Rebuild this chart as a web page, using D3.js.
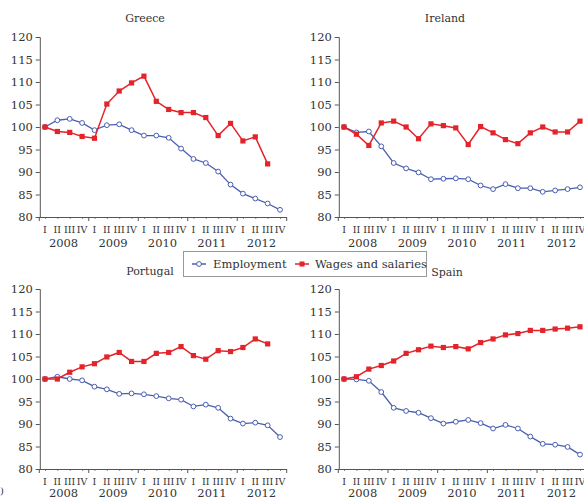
<!DOCTYPE html>
<html>
<head>
<meta charset="utf-8">
<script src="https://cdn.jsdelivr.net/npm/d3@7"></script>
<style>
  body { margin: 0; background: #fff; }
  svg { display: block; font-family: "DejaVu Serif", "Liberation Serif", serif; }
</style>
</head>
<body>
<svg id="chart" width="584" height="501"></svg>
<script>
// quarters 2008 Q1 .. 2012 Q4
const years = ["2008", "2009", "2010", "2011", "2012"];
const quarterLabels = ["I", "II", "III", "IV"];
const yTicks = [80, 85, 90, 95, 100, 105, 110, 115, 120];

const greeceEmployment = [100, 101.5, 101.8, 100.9, 99.3, 100.4, 100.6, 99.3, 98.1, 98.1, 97.6, 95.2, 92.9, 92.0, 90.1, 87.2, 85.2, 84.1, 83.0, 81.6];
const greeceWages = [100, 99.0, 98.8, 97.9, 97.5, 105.1, 108.0, 109.8, 111.3, 105.7, 103.9, 103.2, 103.2, 102.1, 98.1, 100.8, 96.9, 97.8, 91.8];

const irelandEmployment = [100, 98.8, 99.0, 95.7, 92.0, 90.8, 89.9, 88.4, 88.5, 88.6, 88.4, 87.0, 86.2, 87.3, 86.4, 86.4, 85.6, 85.9, 86.2, 86.6];
const irelandWages = [100, 98.4, 95.9, 100.9, 101.3, 100, 97.4, 100.7, 100.3, 99.8, 96.1, 100.1, 98.7, 97.2, 96.3, 98.7, 100, 98.9, 98.9, 101.3];

const portugalEmployment = [100, 100.5, 100, 99.7, 98.3, 97.7, 96.7, 96.8, 96.6, 96.2, 95.7, 95.4, 93.9, 94.3, 93.6, 91.2, 90.1, 90.3, 89.7, 87.1];
const portugalWages = [100, 100, 101.5, 102.7, 103.4, 104.9, 105.9, 103.9, 103.9, 105.7, 105.9, 107.2, 105.2, 104.4, 106.3, 106.1, 107.0, 108.9, 107.8];

const spainEmployment = [100, 99.9, 99.6, 97.1, 93.6, 92.9, 92.5, 91.3, 90.1, 90.5, 90.9, 90.2, 89.0, 89.8, 89.0, 87.2, 85.6, 85.4, 84.9, 83.2];
const spainWages = [100, 100.5, 102.2, 103.0, 104.0, 105.7, 106.5, 107.3, 107.0, 107.2, 106.7, 108.1, 108.9, 109.8, 110.1, 110.8, 110.8, 111.1, 111.3, 111.6];

const blue = "#4a5fb0";
const red = "#e3242b";

const svg = d3.select("#chart");

// panel positions
const panels = [
  {name: "Greece", emp: greeceEmployment, wag: greeceWages, x0: 38.8, x1: 286.2, top: 37, bottom: 217, titleX: 145, titleY: 22, yearDy: 30},
  {name: "Ireland", emp: irelandEmployment, wag: irelandWages, x0: 337.8, x1: 586.2, top: 37, bottom: 217, titleX: 445, titleY: 22, yearDy: 30},
  {name: "Portugal", emp: portugalEmployment, wag: portugalWages, x0: 38.8, x1: 286.2, top: 289, bottom: 469, titleX: 150, titleY: 275, yearDy: 28},
  {name: "Spain", emp: spainEmployment, wag: spainWages, x0: 337.8, x1: 586.2, top: 289, bottom: 469, titleX: 447, titleY: 276, yearDy: 28}
];

panels.forEach(p => {
  const g = svg.append("g");

  const x = d3.scaleLinear().domain([-0.5, 19.5]).range([p.x0, p.x1]);
  const y = d3.scaleLinear().domain([80, 120]).range([p.bottom, p.top]);

  // title
  g.append("text")
    .attr("x", p.titleX)
    .attr("y", p.titleY)
    .attr("text-anchor", "middle")
    .attr("font-size", "11px")
    .attr("fill", "#333")
    .text(p.name);

  // y axis
  const yAxis = g.append("g")
    .attr("transform", `translate(${p.x0 + 1},0)`)
    .call(d3.axisLeft(y).tickValues(yTicks).tickSize(4).tickPadding(3));
  yAxis.selectAll("text").attr("font-size", "11.5px").attr("fill", "#333").attr("font-family", "DejaVu Serif");
  yAxis.selectAll("line, path").attr("stroke", "#555");

  // small quarter ticks
  const minor = g.append("g")
    .attr("transform", `translate(0,${p.bottom})`)
    .call(d3.axisBottom(x).tickValues(d3.range(20)).tickSize(2).tickSizeOuter(0).tickFormat(""));
  minor.select("path").remove();
  minor.selectAll("line").attr("stroke", "#888");

  // x axis with ticks at year boundaries
  const xAxis = g.append("g")
    .attr("transform", `translate(0,${p.bottom})`)
    .call(d3.axisBottom(x).tickValues([-0.5, 3.5, 7.5, 11.5, 15.5, 19.5]).tickSize(4).tickSizeOuter(0).tickFormat(""));
  xAxis.selectAll("line, path").attr("stroke", "#555");

  // quarter labels
  const idx = d3.range(20);
  g.selectAll(".q")
    .data(idx)
    .join("text")
    .attr("x", i => x(i))
    .attr("y", p.bottom + 16)
    .attr("text-anchor", "middle")
    .attr("font-size", "9.5px")
    .attr("fill", "#333")
    .text(i => quarterLabels[i % 4]);

  // year labels
  g.selectAll(".yr")
    .data(years)
    .join("text")
    .attr("x", (d, k) => x(1.5 + 4 * k))
    .attr("y", p.bottom + p.yearDy)
    .attr("text-anchor", "middle")
    .attr("font-size", "11.5px")
    .attr("fill", "#333")
    .text(d => d);

  const line = d3.line().x((d, i) => x(i)).y(d => y(d));

  // employment
  g.append("path")
    .datum(p.emp)
    .attr("fill", "none")
    .attr("stroke", blue)
    .attr("stroke-width", 1.3)
    .attr("d", line);
  g.selectAll(".emp")
    .data(p.emp)
    .join("circle")
    .attr("cx", (d, i) => x(i))
    .attr("cy", d => y(d))
    .attr("r", 2.4)
    .attr("fill", "#fff")
    .attr("stroke", blue)
    .attr("stroke-width", 1);

  // wages and salaries
  g.append("path")
    .datum(p.wag)
    .attr("fill", "none")
    .attr("stroke", red)
    .attr("stroke-width", 1.5)
    .attr("d", line);
  g.selectAll(".wag")
    .data(p.wag)
    .join("rect")
    .attr("x", (d, i) => x(i) - 2.6)
    .attr("y", d => y(d) - 2.6)
    .attr("width", 5.2)
    .attr("height", 5.2)
    .attr("fill", red);
});

// legend
const legend = svg.append("g");
legend.append("rect")
  .attr("x", 183.5)
  .attr("y", 251.5)
  .attr("width", 243)
  .attr("height", 25)
  .attr("fill", "#fff")
  .attr("stroke", "#999");

const legendItems = [
  {label: "Employment", color: blue, type: "circle", lx: 192, tx: 213},
  {label: "Wages and salaries", color: red, type: "rect", lx: 295, tx: 315}
];
legendItems.forEach(it => {
  legend.append("line")
    .attr("x1", it.lx).attr("x2", it.lx + 14)
    .attr("y1", 264).attr("y2", 264)
    .attr("stroke", it.color).attr("stroke-width", 1.5);
  if (it.type === "circle") {
    legend.append("circle")
      .attr("cx", it.lx + 7).attr("cy", 264).attr("r", 2.4)
      .attr("fill", "#fff").attr("stroke", it.color);
  } else {
    legend.append("rect")
      .attr("x", it.lx + 4.5).attr("y", 261.5).attr("width", 5).attr("height", 5)
      .attr("fill", it.color);
  }
  legend.append("text")
    .attr("x", it.tx)
    .attr("y", 268)
    .attr("font-size", "11.5px")
    .attr("fill", "#333")
    .text(it.label);
});

// cut-off panel label at the bottom left
svg.append("text")
  .attr("x", 4)
  .attr("y", 494)
  .attr("text-anchor", "end")
  .attr("font-size", "10px")
  .attr("fill", "#333")
  .text("(b)");
</script>
</body>
</html>
